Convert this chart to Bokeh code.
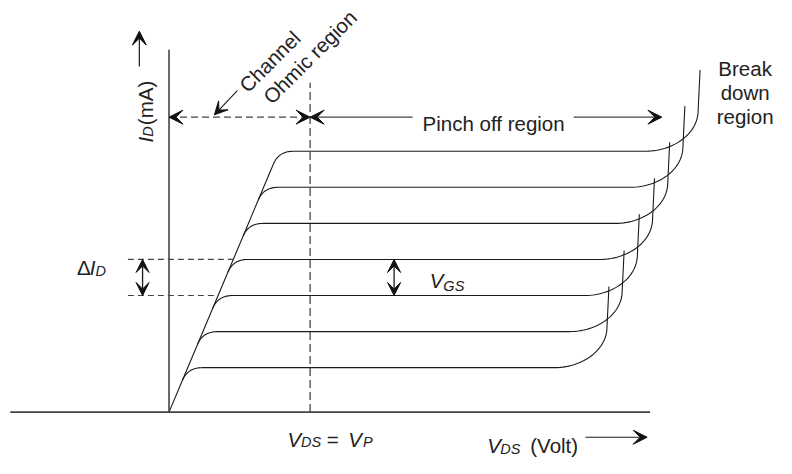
import numpy as np
from math import pi
from bokeh.plotting import figure
from bokeh.models import Range1d, Arrow, VeeHead, Label
from bokeh.embed import file_html
from bokeh.resources import INLINE

# ---------------- data (schematic units: x = V_DS, y = I_D) ----------------
sat_current = [46.0, 83.3, 120.7, 158.0, 195.3, 232.7, 270.0]    # saturation level of each V_GS curve
breakdown_v = [447.0, 462.5, 478.0, 493.5, 509.0, 524.5, 540.0]   # V_DS where each curve turns vertical
breakdown_rise = 84.0        # how far the breakdown tail climbs above its level
ohmic_slope = 0.415          # V_DS per unit I_D along the ohmic (channel) line
pinch_v = 144.0              # V_DS = V_P
marked_levels = [120.7, 158.0]   # the pair of curves used for the ΔI_D / V_GS marks
region_y = 305.3             # height of the region arrows

FONT = "Liberation Sans"
INK = "#1a1a1a"
GREY = "#444444"
FS = 20.5
SUB = 14.5

p = figure(width=776, height=458, x_range=Range1d(-172, 620), y_range=Range1d(-48, 426),
           output_backend="svg", toolbar_location=None, min_border=0,
           x_axis_location=None, y_axis_location=None)
p.grid.visible = False
p.outline_line_color = None
p.background_fill_color = "white"
p.border_fill_color = "white"


def bez2(p0, c, p1, n=24):
    t = np.linspace(0, 1, n)
    x = (1 - t) ** 2 * p0[0] + 2 * (1 - t) * t * c[0] + t ** 2 * p1[0]
    y = (1 - t) ** 2 * p0[1] + 2 * (1 - t) * t * c[1] + t ** 2 * p1[1]
    return list(x), list(y)


def bez3(p0, c0, c1, p1, n=30):
    t = np.linspace(0, 1, n)
    x = ((1 - t) ** 3 * p0[0] + 3 * (1 - t) ** 2 * t * c0[0]
         + 3 * (1 - t) * t ** 2 * c1[0] + t ** 3 * p1[0])
    y = ((1 - t) ** 3 * p0[1] + 3 * (1 - t) ** 2 * t * c0[1]
         + 3 * (1 - t) * t ** 2 * c1[1] + t ** 3 * p1[1])
    return list(x), list(y)


# ---------------- characteristic curves ----------------
xs_all, ys_all = [], []
knee_drop, knee_run = 13.0, 15.0
bend_w, bend_h = 54.0, 42.0
prev_y = 0.0
for L, xb in zip(sat_current, breakdown_v):
    # each curve leaves the shared ohmic line where the previous one branched off
    xs, ys = [ohmic_slope * prev_y], [prev_y]
    k0 = (ohmic_slope * (L - knee_drop), L - knee_drop)
    kc = (ohmic_slope * L, L)
    k1 = (ohmic_slope * L + knee_run, L)
    qx, qy = bez2(k0, kc, k1)
    xs += qx; ys += qy
    xf = xb - bend_w
    cx, cy = bez3((xf, L), (xf + 0.55 * bend_w, L), (xb, L + 0.45 * bend_h), (xb, L + bend_h))
    xs += cx; ys += cy
    xs.append(xb + 2.0); ys.append(L + breakdown_rise)
    xs_all.append(xs); ys_all.append(ys)
    prev_y = L - knee_drop

p.multi_line(xs_all, ys_all, line_color=INK, line_width=1.1)

# ---------------- axes ----------------
p.segment(x0=[0], y0=[0], x1=[0], y1=[375], line_color=GREY, line_width=1.6)
p.segment(x0=[-162], y0=[0], x1=[491], y1=[0], line_color=GREY, line_width=1.6)

# V_P dashed line
p.segment(x0=[pinch_v], y0=[0], x1=[pinch_v], y1=[341], line_color=GREY, line_width=1.3,
          line_dash="8 4")

# ΔI_D dashed guides
for L in marked_levels:
    p.segment(x0=[-42], y0=[L], x1=[ohmic_slope * L], y1=[L], line_color=GREY,
              line_width=1.2, line_dash="6 4")


def head(sz=13):
    return VeeHead(size=sz, fill_color="#111111", line_color="#111111", line_width=1)


def arrow(x0, y0, x1, y1, start=False, end=True, dash="solid", sz=13, color=GREY, lw=1.3):
    p.add_layout(Arrow(x_start=x0, y_start=y0, x_end=x1, y_end=y1,
                       start=head(sz) if start else None, end=head(sz) if end else None,
                       line_color=color, line_width=lw, line_dash=dash))


# region arrows
arrow(0, region_y, pinch_v, region_y, start=True, end=True, dash="7 4", sz=14)
arrow(248.7, region_y, pinch_v, region_y, sz=14)
arrow(413.0, region_y, 503.0, region_y, sz=14)
# channel pointer
arrow(69.7, 332.7, 46.3, 307.7, sz=13, color=INK, lw=1.1)
# ΔI_D and V_GS double arrows
arrow(-27, marked_levels[0], -27, marked_levels[1], start=True, end=True, sz=13, color=INK)
arrow(229.7, marked_levels[0], 229.7, marked_levels[1], start=True, end=True, sz=13, color=INK)
# axis direction arrows
arrow(-30.3, 357.7, -30.3, 394.3, sz=14, color=INK, lw=1.2)
arrow(425.0, -26.0, 488.0, -26.0, sz=14, color=INK, lw=1.2)


def txt(x, y, s, size=FS, italic=False, align="left", baseline="alphabetic", angle=0.0):
    p.add_layout(Label(x=x, y=y, text=s, text_font=FONT, text_font_size=f"{size}px",
                       text_font_style="italic" if italic else "normal", text_color="#222222",
                       text_align=align, text_baseline=baseline, angle=angle))


# texts
txt(331.3, 298.7, "Pinch off region", align="center")
txt(102.7, 363.0, "Channel", align="center", baseline="middle", angle=pi / 4)
txt(143.7, 367.7, "Ohmic region", align="center", baseline="middle", angle=pi / 4)
txt(588.0, 356.0, "Break", align="center")
txt(588.0, 331.0, "down", align="center")
txt(588.0, 306.0, "region", align="center")

# I_D (mA) vertical label
txt(-24.5, 279.0, "I", italic=True, angle=pi / 2)
txt(-21.5, 285.0, "D", size=SUB, italic=True, angle=pi / 2)
txt(-24.5, 297.0, "(mA)", angle=pi / 2)

# ΔI_D
txt(-94.0, 149.3, "Δ")
txt(-81.0, 149.3, "I", italic=True)
txt(-75.0, 146.0, "D", size=SUB, italic=True)

# V_GS
txt(266.0, 136.0, "V", italic=True)
txt(280.0, 131.0, "GS", size=SUB, italic=True)

# V_DS = V_P
txt(121.0, -28.0, "V", italic=True)
txt(134.7, -31.0, "DS", size=SUB, italic=True)
txt(161.0, -28.0, "=")
txt(183.0, -28.0, "V", italic=True)
txt(198.0, -31.0, "P", size=SUB, italic=True)

# V_DS (Volt) -- raised slightly so nothing touches the bottom edge
txt(324.7, -35.0, "V", italic=True)
txt(338.0, -38.4, "DS", size=SUB, italic=True)
txt(368.7, -35.0, "(Volt)")

open("out.html", "w").write(file_html(p, INLINE))
